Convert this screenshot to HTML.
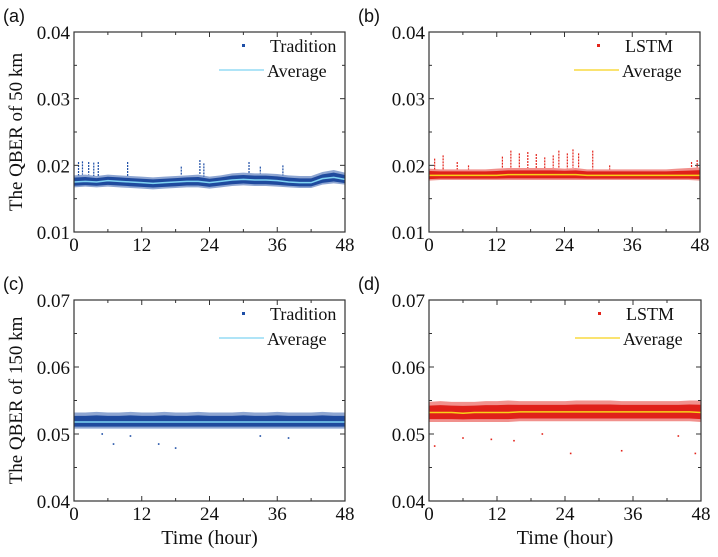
<!DOCTYPE html>
<html><head><meta charset="utf-8"><style>
body{margin:0;background:#fff}
svg text{font-family:"Liberation Serif",serif}
</style></head><body>
<svg id="c" width="718" height="552" xmlns="http://www.w3.org/2000/svg"></svg>
<script>
const hours=[0,2,4,6,8,10,12,14,16,18,20,22,24,26,28,30,32,34,36,38,40,42,44,46,48];
const xTicks=[0,12,24,36,48];
// panel a: Tradition 50km
const aAvg=[0.0175,0.0176,0.0175,0.0177,0.0176,0.0175,0.0174,0.0173,0.0174,0.0175,0.0176,0.0176,0.0174,0.0176,0.0178,0.0179,0.0178,0.0178,0.0177,0.0175,0.0174,0.0174,0.0180,0.0182,0.0179];
const aLo=[0.0167,0.0168,0.0167,0.0168,0.0167,0.0166,0.0165,0.0164,0.0165,0.0166,0.0167,0.0167,0.0165,0.0167,0.0169,0.0170,0.0169,0.0169,0.0168,0.0167,0.0166,0.0166,0.0171,0.0173,0.0171];
const aHi=[0.0185,0.0186,0.0184,0.0186,0.0185,0.0184,0.0183,0.0182,0.0183,0.0184,0.0185,0.0186,0.0183,0.0185,0.0188,0.0189,0.0188,0.0188,0.0187,0.0185,0.0184,0.0184,0.0190,0.0193,0.0189];
const aSpikeX=[0.8,1.5,2.6,3.5,4.3,9.5,19,22.3,23,31,33,37];
const aSpikeY=[0.0205,0.0206,0.0205,0.0204,0.0205,0.0205,0.0198,0.0208,0.0203,0.0205,0.0198,0.0200];
// panel b: LSTM 50km
const bAvg=[0.0185,0.0185,0.0185,0.0185,0.0185,0.0185,0.0185,0.0186,0.0186,0.0186,0.0186,0.0186,0.0186,0.0186,0.0185,0.0185,0.0185,0.0185,0.0185,0.0185,0.0185,0.0185,0.0185,0.0185,0.0185];
const bLo=[0.0177,0.0178,0.0178,0.0178,0.0178,0.0178,0.0178,0.0178,0.0178,0.0178,0.0178,0.0178,0.0178,0.0178,0.0178,0.0178,0.0178,0.0178,0.0178,0.0178,0.0178,0.0178,0.0178,0.0178,0.0177];
const bHi=[0.0195,0.0194,0.0194,0.0194,0.0194,0.0194,0.0195,0.0196,0.0196,0.0196,0.0196,0.0196,0.0195,0.0196,0.0194,0.0194,0.0194,0.0194,0.0194,0.0194,0.0194,0.0194,0.0195,0.0196,0.0197];
const bSpikeX=[1,2.5,5,7,13,14.5,16,17.5,19,20.5,22,23,24.5,25.5,26.5,29,32,46.5,47.5];
const bSpikeY=[0.0210,0.0215,0.0205,0.0200,0.0213,0.0222,0.0218,0.0220,0.0217,0.0212,0.0215,0.0222,0.0218,0.0224,0.0218,0.0222,0.0200,0.0205,0.0208];
// panel c: Tradition 150km
const cAvg=[0.0518,0.0518,0.0518,0.0518,0.0518,0.0518,0.0518,0.0518,0.0518,0.0518,0.0518,0.0518,0.0518,0.0518,0.0518,0.0518,0.0518,0.0518,0.0518,0.0518,0.0518,0.0518,0.0518,0.0518,0.0518];
const cLo=[0.0508,0.0508,0.0508,0.0508,0.0508,0.0508,0.0508,0.0508,0.0508,0.0508,0.0508,0.0508,0.0508,0.0508,0.0508,0.0508,0.0508,0.0508,0.0508,0.0508,0.0508,0.0508,0.0508,0.0508,0.0508];
const cHi=[0.0532,0.0532,0.0533,0.0532,0.0532,0.0533,0.0532,0.0532,0.0533,0.0532,0.0532,0.0533,0.0532,0.0532,0.0532,0.0533,0.0532,0.0532,0.0533,0.0532,0.0532,0.0532,0.0533,0.0532,0.0532];
const cSpikeX=[5,7,10,15,18,33,38];
const cSpikeY=[0.0500,0.0485,0.0497,0.0485,0.0479,0.0497,0.0494];
// panel d: LSTM 150km
const dAvg=[0.0532,0.0532,0.0532,0.0531,0.0532,0.0532,0.0532,0.0532,0.0533,0.0533,0.0533,0.0533,0.0533,0.0533,0.0533,0.0533,0.0533,0.0533,0.0533,0.0533,0.0533,0.0533,0.0533,0.0533,0.0532];
const dLo=[0.0518,0.0518,0.0518,0.0518,0.0518,0.0518,0.0518,0.0518,0.0519,0.0519,0.0519,0.0519,0.0519,0.0519,0.0519,0.0519,0.0519,0.0519,0.0519,0.0519,0.0519,0.0519,0.0519,0.0519,0.0518];
const dHi=[0.0548,0.0549,0.0548,0.0548,0.0548,0.0549,0.0549,0.0550,0.0549,0.0549,0.0549,0.0549,0.0549,0.0550,0.0550,0.0550,0.0550,0.0549,0.0549,0.0549,0.0549,0.0549,0.0549,0.0550,0.0550];
const dSpikeX=[1,6,11,15,20,25,34,44,47];
const dSpikeY=[0.0482,0.0494,0.0492,0.0490,0.0500,0.0471,0.0475,0.0497,0.0471];

const svg=document.getElementById('c');
const NS='http://www.w3.org/2000/svg';
function mk(tag,attrs,parent){const e=document.createElementNS(NS,tag);for(const k in attrs)e.setAttribute(k,attrs[k]);(parent||svg).appendChild(e);return e;}

const panels=[
 {id:'a',L:74,R:345,T:32,B:232,ymin:0.01,ymax:0.04,yt:[0.01,0.02,0.03,0.04],dot:'#1d4ea6',core:'#1f4a9e',avgc:'#7fd3f2',name:'Tradition',avg:aAvg,lo:aLo,hi:aHi,sx:aSpikeX,sy:aSpikeY,lx:3,ytitle:'The QBER of 50 km',xtitle:false},
 {id:'b',L:429,R:700,T:32,B:232,ymin:0.01,ymax:0.04,yt:[0.01,0.02,0.03,0.04],dot:'#e3241b',core:'#e0201a',avgc:'#f7d21a',name:'LSTM',avg:bAvg,lo:bLo,hi:bHi,sx:bSpikeX,sy:bSpikeY,lx:358,ytitle:null,xtitle:false},
 {id:'c',L:74,R:345,T:300,B:501,ymin:0.04,ymax:0.07,yt:[0.04,0.05,0.06,0.07],dot:'#1d4ea6',core:'#1f4a9e',avgc:'#7fd3f2',name:'Tradition',avg:cAvg,lo:cLo,hi:cHi,sx:cSpikeX,sy:cSpikeY,lx:3,ytitle:'The QBER of 150 km',xtitle:true},
 {id:'d',L:429,R:701,T:300,B:501,ymin:0.04,ymax:0.07,yt:[0.04,0.05,0.06,0.07],dot:'#e3241b',core:'#e0201a',avgc:'#f7d21a',name:'LSTM',avg:dAvg,lo:dLo,hi:dHi,sx:dSpikeX,sy:dSpikeY,lx:358,ytitle:null,xtitle:true}
];

panels.forEach(p=>{
 const g=mk('g',{});
 
 
 const X=v=>p.L+(v-0)/48*(p.R-p.L);
 const Y=v=>p.B-(v-p.ymin)/(p.ymax-p.ymin)*(p.B-p.T);
 let pts=hours.map((h,i)=>X(h)+','+Y(p.hi[i])).join(' ')+' '+hours.map((h,i)=>X(h)+','+Y(p.lo[i])).reverse().join(' ');
 const band=mk('polygon',{points:pts,fill:p.dot,opacity:0.5},g);
 
 
 let pts2=hours.map((h,i)=>X(h)+','+Y(p.avg[i]+(p.hi[i]-p.avg[i])*0.65)).join(' ')+' '+hours.map((h,i)=>X(h)+','+Y(p.avg[i]-(p.avg[i]-p.lo[i])*0.7)).reverse().join(' ');
 const core=mk('polygon',{points:pts2,fill:p.core},g);
 
 
 p.sx.forEach((sx,i)=>{
  const idx=Math.round(sx/2);
  if(p.sy[i]>p.hi[idx]){
   const ln=mk('line',{x1:X(sx),x2:X(sx),y1:Y(p.sy[i]),y2:Y(p.hi[idx]),stroke:p.dot,'stroke-width':1.2,'stroke-dasharray':'2 1'},g);
   
   
  } else {
   const d=mk('rect',{x:X(sx)-0.8,y:Y(p.sy[i])-0.8,width:1.6,height:1.6,fill:p.dot},g);
   
   
  }
 });
 const av=mk('polyline',{points:hours.map((h,i)=>X(h)+','+Y(p.avg[i])).join(' '),fill:'none',stroke:p.avgc,'stroke-width':1.5},g);
 
 
 const fr=mk('rect',{x:p.L,y:p.T,width:p.R-p.L,height:p.B-p.T,fill:'none',stroke:'#333','stroke-width':1.2},g);
 
 
 xTicks.forEach(t=>{
  mk('line',{x1:X(t),x2:X(t),y1:p.B,y2:p.B-5,stroke:'#333'},g);
  mk('line',{x1:X(t),x2:X(t),y1:p.T,y2:p.T+5,stroke:'#333'},g);
  const tl=mk('text',{x:X(t),y:p.B+19,'font-size':19,'text-anchor':'middle',fill:'#111'},g);
  tl.textContent=t;
  
  
 });
 for(let t=6;t<48;t+=12){mk('line',{x1:X(t),x2:X(t),y1:p.B,y2:p.B-3,stroke:'#333'},g);mk('line',{x1:X(t),x2:X(t),y1:p.T,y2:p.T+3,stroke:'#333'},g);}
 p.yt.forEach((t,i)=>{
  mk('line',{x1:p.L,x2:p.L+5,y1:Y(t),y2:Y(t),stroke:'#333'},g);
  mk('line',{x1:p.R,x2:p.R-5,y1:Y(t),y2:Y(t),stroke:'#333'},g);
  if(i<p.yt.length-1){const m=(t+p.yt[i+1])/2;mk('line',{x1:p.L,x2:p.L+3,y1:Y(m),y2:Y(m),stroke:'#333'},g);mk('line',{x1:p.R,x2:p.R-3,y1:Y(m),y2:Y(m),stroke:'#333'},g);}
  const tl=mk('text',{x:p.L-4,y:Y(t)+7,'font-size':19,'text-anchor':'end',fill:'#111'},g);
  tl.textContent=t.toFixed(2);
  
  
 });
 const lab=mk('text',{x:p.lx,y:p.T-10,'font-size':18,fill:'#111',style:'font-family:"Liberation Sans",sans-serif'},g);
 lab.textContent='('+p.id+')';
 
 
 const lg=mk('g',{},g);
 
 
 mk('rect',{x:p.R-103,y:p.T+12,width:3,height:3,fill:p.dot},lg);
 const t1=mk('text',{x:p.R-75,y:p.T+20,'font-size':18,fill:'#111'},lg);t1.textContent=p.name;
 
 
 mk('line',{x1:p.R-126,x2:p.R-81,y1:p.T+38,y2:p.T+38,stroke:p.avgc,'stroke-width':1.2},lg);
 const t2=mk('text',{x:p.R-78,y:p.T+45,'font-size':18,fill:'#111'},lg);t2.textContent='Average';
 
 
 if(p.ytitle){const yt=mk('text',{x:0,y:0,'font-size':19,'text-anchor':'middle',fill:'#111',transform:'translate(22,'+((p.T+p.B)/2)+') rotate(-90)'},g);yt.textContent=p.ytitle;
  
  }
 if(p.xtitle){const xt=mk('text',{x:(p.L+p.R)/2,y:p.B+43,'font-size':20,'text-anchor':'middle',fill:'#111'},g);xt.textContent='Time (hour)';
  
  }
});
</script>
</body></html>
